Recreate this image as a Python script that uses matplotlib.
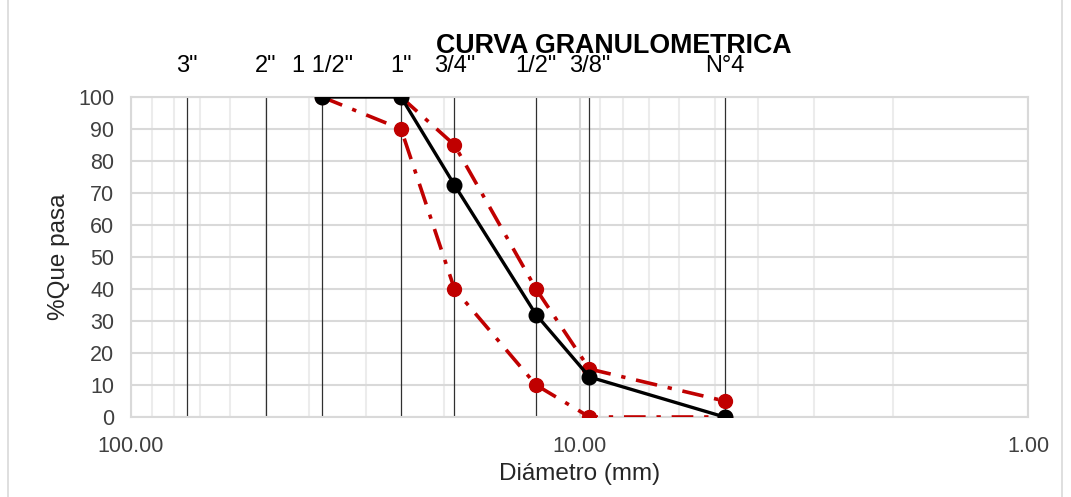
import matplotlib
matplotlib.use("Agg")
import matplotlib.pyplot as plt
from matplotlib.patches import Rectangle

plt.rcParams['font.family'] = ['Liberation Sans', 'DejaVu Sans']

# Sieve data
sieve_labels = ['3"', '2"', '1 1/2"', '1"', '3/4"', '1/2"', '3/8"', 'N°4']
sieve_mm = [75, 50, 37.5, 25, 19, 12.5, 9.5, 4.75]

# Curves
curve_d = [37.5, 25, 19, 12.5, 9.5, 4.75]
curve_pass = [100, 100, 72.5, 32, 12.5, 0]

upper_d = [25, 19, 12.5, 9.5, 4.75]
upper_pass = [100, 85, 40, 15, 5]

lower_d = [37.5, 25, 19, 12.5, 9.5, 4.75]
lower_pass = [100, 90, 40, 10, 0, 0]

W, H = 1071, 497
fig = plt.figure(figsize=(W / 100, H / 100), dpi=100)
ax = fig.add_axes([131 / W, 1 - 417 / H, (1028 - 131) / W, (417 - 97) / H])

ax.set_xscale('log')
ax.set_xlim(100, 1)
ax.set_ylim(0, 100)

# grids
ax.set_yticks(range(0, 101, 10))
ax.yaxis.grid(True, color='#d9d9d9', linewidth=1.5)
minor_x = [v * 10 ** k for k in (0, 1) for v in range(2, 10)]
ax.set_xticks([100, 10, 1])
ax.set_xticklabels(['100.00', '10.00', '1.00'])
ax.set_xticks(minor_x, minor=True)
ax.xaxis.grid(True, which='minor', color='#ececec', linewidth=1.5)
ax.xaxis.grid(True, which='major', color='#d9d9d9', linewidth=1.5)
ax.set_axisbelow(True)
ax.tick_params(axis='both', which='both', length=0, labelsize=15.5, colors='#404040')
ax.tick_params(axis='x', pad=14)
ax.tick_params(axis='y', pad=12)
for s in ax.spines.values():
    s.set_color('#d9d9d9')
    s.set_linewidth(1.5)

# sieve vertical lines and labels
for lab, d in zip(sieve_labels, sieve_mm):
    ax.plot([d, d], [0, 100], color='#303030', linewidth=0.9, zorder=2)
    ax.text(d, 109.8, lab, ha='center', va='center', fontsize=17, color='#000000')

# curves
ax.plot(lower_d, lower_pass, color='#c00000', linestyle=(0, (6, 3, 1.2, 3)), linewidth=2.6,
        marker='o', markersize=10, zorder=3)
ax.plot(upper_d, upper_pass, color='#c00000', linestyle=(0, (6, 3, 1.2, 3)), linewidth=2.6,
        marker='o', markersize=10, zorder=3)
ax.plot(curve_d, curve_pass, color='black', linewidth=2.4, marker='o', markersize=10.5, zorder=4)

ax.set_xlabel('Diámetro (mm)', fontsize=17.5, color='#262626', labelpad=4)
ax.set_ylabel('%Que pasa', fontsize=17.5, color='#262626', labelpad=6)

fig.text(614 / W, 1 - 46 / H, 'CURVA GRANULOMETRICA', ha='center', va='center',
         fontsize=19.3, fontweight='bold', color='black')

fig.patches.append(Rectangle((8 / W, -0.01), (1062 - 8) / W, 1.02, transform=fig.transFigure,
                             fill=False, edgecolor='#d9d9d9', linewidth=1.2))

fig.savefig('out.png', dpi=100)
